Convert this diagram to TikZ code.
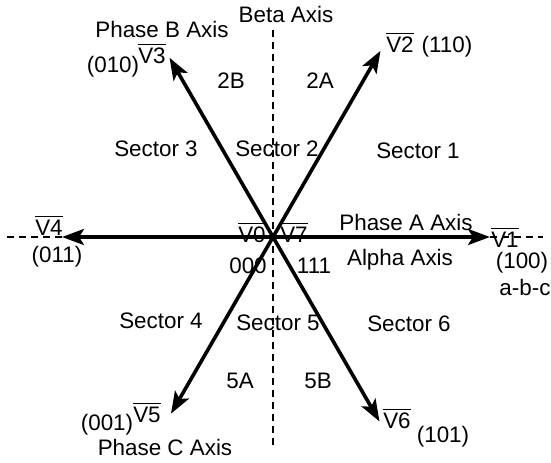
\documentclass[tikz,border=0pt]{standalone}
\usepackage{fontspec}
\setmainfont{Liberation Sans}
\usepackage{tikz}
\usetikzlibrary{arrows.meta,positioning}
\newcommand{\vb}[1]{$\overline{\mbox{V#1}}$}
\tikzset{
  vec/.style={-{Stealth[length=11pt,width=8pt,inset=2.5pt]},line width=1.8pt},
  axisdash/.style={line width=0.8pt,dash pattern=on 3.5pt off 2.5pt},
  lbl/.style={inner sep=0pt,anchor=base,font=\fontsize{11.2}{13}\selectfont}
}
\begin{document}
\begin{tikzpicture}[x=0.5pt,y=0.5pt]
  \useasboundingbox (-273,-225) rectangle (278,237);
  % origin and vector tips
  \coordinate (O) at (0,0);
  \coordinate (t1) at (0:217);
  \coordinate (t2) at (60:215);
  \coordinate (t3) at (120:207);
  \coordinate (t4) at (180:211);
  \coordinate (t5) at (240:204);
  \coordinate (t6) at (300:213);
  % dashed axes
  \coordinate (betatop) at (0,207);
  \coordinate (betabot) at (0,-210);
  \coordinate (leftend) at (-266,0);
  \coordinate (rightend) at (270,0);
  \draw[axisdash] (betatop) -- (betabot);
  \draw[axisdash] (leftend) -- (t4);
  \draw[axisdash] (t1) -- (rightend);
  % space vectors
  \foreach \k in {1,...,6}
    \draw[vec] (O) -- (t\k);
  % axis labels
  \node[lbl] (beta) at (13,215) {Beta Axis};
  \node[lbl] (phB) at (-111,200) {Phase B Axis};
  \node[lbl] (phA) at (133,7) {Phase A Axis};
  \node[lbl] (alpha) at (127,-28) {Alpha Axis};
  \node[lbl] (phC) at (-108,-218) {Phase C Axis};
  \node[lbl] (abc) at (252,-58) {a-b-c};
  % vectors and switching states
  \node[lbl] (v1) at (232,-10) {\vb{1}};
  \node[lbl] (c1) at (249,-31) {(100)};
  \node[lbl] (v2) at (127,185) {\vb{2}};
  \node[lbl] (c2) at (174,185) {(110)};
  \node[lbl] (v3) at (-121,174) {\vb{3}};
  \node[lbl] (c3) at (-160,165) {(010)};
  \node[lbl] (v4) at (-224,2) {\vb{4}};
  \node[lbl] (c4) at (-216,-25) {(011)};
  \node[lbl] (v5) at (-126,-185) {\vb{5}};
  \node[lbl] (c5) at (-166,-193) {(001)};
  \node[lbl] (v6) at (124,-191) {\vb{6}};
  \node[lbl] (c6) at (170,-205) {(101)};
  \node[lbl] (v0) at (-21,-5) {\vb{0}};
  \node[lbl] (v7) at (21,-5) {\vb{7}};
  \node[lbl] (c0) at (-25,-36) {000};
  \node[lbl] (c7) at (41,-36) {111};
  % sectors
  \node[lbl] (s1) at (145,79) {Sector 1};
  \node[lbl] (s2) at (4,81) {Sector 2};
  \node[lbl] (s3) at (-117,81) {Sector 3};
  \node[lbl] (s4) at (-112,-91) {Sector 4};
  \node[lbl] (s5) at (5,-93) {Sector 5};
  \node[lbl] (s6) at (136,-94) {Sector 6};
  \node[lbl] (h2b) at (-42,149) {2B};
  \node[lbl] (h2a) at (47,149) {2A};
  \node[lbl] (h5a) at (-33,-151) {5A};
  \node[lbl] (h5b) at (45,-151) {5B};
\end{tikzpicture}
\end{document}
